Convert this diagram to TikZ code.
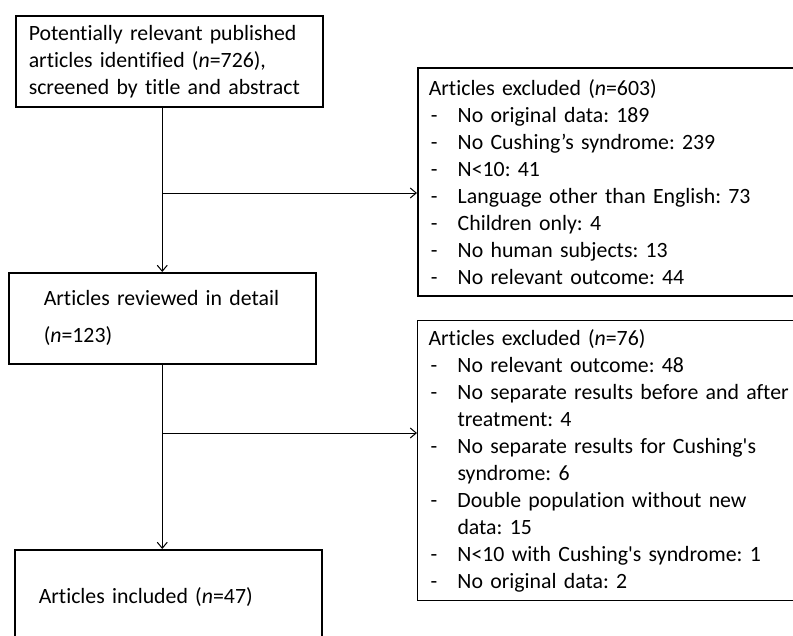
\documentclass[tikz,border=0pt]{standalone}
\usepackage{fontspec}
\setmainfont{Carlito}[Ligatures={TeXOff,NoCommon}]
\usetikzlibrary{arrows.meta}

\newcommand{\exitem}[1]{\\\hspace*{2pt}\makebox[27pt][l]{-}#1}
\newcommand{\exwrap}[1]{\\\hspace*{29pt}#1}

\begin{document}
\frenchspacing
\begin{tikzpicture}[x=1pt, y=-1pt, font=\fontsize{21.8}{27}\selectfont,
    box/.style={draw, line width=1.5pt, anchor=north west, align=left, inner sep=0pt},
    flow/.style={-{Straight Barb[length=6pt,width=10pt,line width=1pt]}, line width=1.5pt},
    branch/.style={-{Straight Barb[length=6pt,width=10pt,line width=1pt]}, line width=1pt}]
\clip (0,0) rectangle (793,635);

\node [box, text width=281pt, inner xsep=13pt, minimum height=91pt] (found) at (15,15)
    {Potentially relevant published\\articles identified (\textit{n}=726),\\screened by title and abstract};
\node [box, text width=237pt, inner xsep=35pt, minimum height=91pt] (reviewed) at (8,272)
    {Articles reviewed in detail\\[10pt](\textit{n}=123)};
\node [box, text width=259pt, inner xsep=24pt, minimum height=94pt] (included) at (14,549)
    {Articles included (\textit{n}=47)};

\node [box, text width=400pt, inner xsep=11pt, minimum height=228pt] (excluded1) at (417,67)
    {Articles excluded (\textit{n}=603)
     \exitem{No original data: 189}
     \exitem{No Cushing’s syndrome: 239}
     \exitem{N<10: 41}
     \exitem{Language other than English: 73}
     \exitem{Children only: 4}
     \exitem{No human subjects: 13}
     \exitem{No relevant outcome: 44}};
\node [box, line width=1pt, text width=400pt, inner xsep=11pt, minimum height=280pt] (excluded2) at (417,320)
    {Articles excluded (\textit{n}=76)
     \exitem{No relevant outcome: 48}
     \exitem{No separate results before and after}
     \exwrap{treatment: 4}
     \exitem{No separate results for Cushing's}
     \exwrap{syndrome: 6}
     \exitem{Double population without new}
     \exwrap{data: 15}
     \exitem{N<10 with Cushing's syndrome: 1}
     \exitem{No original data: 2}};

% splits
\coordinate (split1) at (reviewed.north |- 0,193);
\coordinate (split2) at (reviewed.south |- 0,433);

\draw [flow] (reviewed.north |- found.south) -- (reviewed.north);
\draw [flow] (reviewed.south) -- (reviewed.south |- included.north);
\draw [branch] (split1) -- (split1 -| excluded1.west);
\draw [branch] (split2) -- (split2 -| excluded2.west);
\end{tikzpicture}
\end{document}
